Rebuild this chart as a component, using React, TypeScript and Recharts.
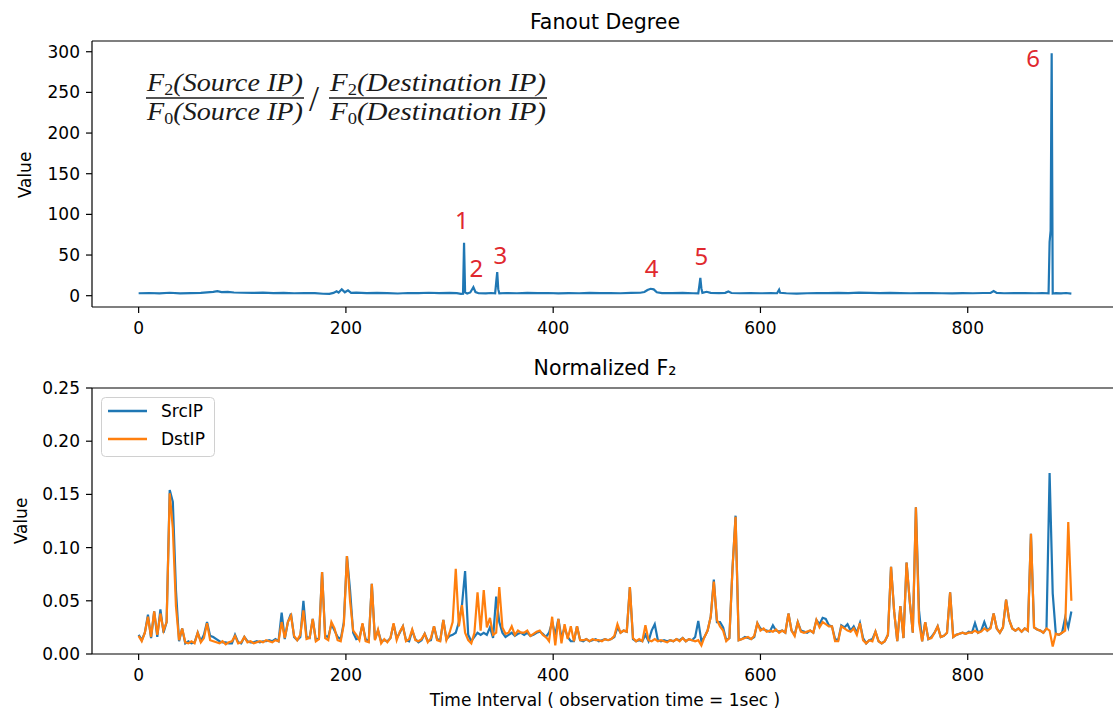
import { LineChart, Line, XAxis, YAxis, ReferenceLine, ReferenceDot, Legend } from "recharts"

// Fanout degree (top panel), sampled where the trace changes
const fanoutT = [
  0, 10, 20, 30, 40, 50, 60, 66, 72, 76, 80, 86, 92, 100, 110, 120, 130, 140, 150, 160,
  170, 178, 184, 188, 191, 193, 196, 199, 202, 205, 210, 220, 230, 240, 250, 260, 270, 280, 290, 300,
  307, 311, 313, 314, 315, 317, 320, 323, 325, 328, 335, 340, 344, 345, 346, 347, 348, 355, 365, 375,
  385, 395, 405, 415, 425, 435, 445, 455, 465, 475, 484, 488, 491, 494, 497, 500, 505, 515, 525, 535,
  540, 541, 542, 543, 544, 548, 552, 560, 566, 569, 572, 580, 590, 600, 610, 616, 618, 619, 625, 635,
  645, 655, 665, 675, 685, 695, 705, 715, 725, 735, 745, 755, 765, 775, 785, 795, 805, 815, 822, 825,
  828, 835, 845, 855, 865, 872, 878, 879, 880, 881, 882, 885, 890, 895, 900,
]
const fanoutValue = [
  3.0, 3.3, 2.8, 3.6, 2.9, 3.2, 3.4, 4.2, 4.8, 5.6, 4.4, 4.8, 3.9, 3.6, 3.4, 3.8, 3.2, 3.4, 3.0, 3.3,
  3.1, 2.4, 2.2, 3.5, 5.5, 3.8, 7.8, 4.2, 6.6, 3.4, 3.8, 3.2, 3.5, 3.1, 2.7, 3.3, 3.2, 3.6, 3.1, 3.4,
  3.2, 2.2, 2.5, 65, 4, 2.6, 4, 10.5, 4.5, 3, 2.8, 3.3, 3, 16, 29, 8, 3, 3.3, 3.0, 3.4,
  3.1, 3.3, 2.9, 3.2, 3.0, 3.4, 3.1, 3.3, 3.0, 3.4, 3.6, 4.5, 7, 8.5, 7.8, 4.2, 3.2, 3.1, 3.4, 3.0,
  2.8, 12, 22, 9, 3.5, 4.8, 3.4, 3.1, 3.5, 5.2, 3.3, 3.0, 3.2, 3.0, 3.1, 3.0, 7.5, 3.6, 3.0, 2.6,
  3.0, 3.3, 3.1, 3.5, 3.2, 3.7, 3.4, 3.1, 3.5, 3.2, 3.0, 3.3, 3.1, 3.0, 2.8, 3.2, 3.0, 3.3, 3.5, 5.8,
  3.4, 3.0, 3.2, 3.1, 3.0, 3.3, 2.8, 66, 80, 298, 2.6, 3.1, 2.9, 3.3, 2.5,
]

// red markers on the top panel
const annoText = ["1", "2", "3", "4", "5", "6"]
const annoT = [312, 326, 349, 495, 543, 863]
const annoValue = [93, 33, 49, 33, 48, 292]

// Normalized F2 (bottom panel), one value every 3 intervals from 0 to 900
const f2Names = ["SrcIP", "DstIP"]
const srcF2 = [
  .018, .013, .02, .037, .015, .04, .016, .042, .02, .03,
  .154, .143, .06, .012, .024, .01, .012, .01, .011, .02,
  .012, .018, .03, .017, .016, .014, .012, .011, .011, .01,
  .01, .018, .011, .01, .016, .012, .011, .011, .012, .011,
  .012, .012, .013, .012, .014, .012, .039, .014, .03, .038,
  .016, .013, .016, .05, .016, .015, .033, .013, .015, .077,
  .017, .016, .028, .022, .016, .014, .03, .092, .06, .02,
  .014, .015, .028, .014, .012, .066, .014, .022, .012, .013,
  .012, .015, .028, .015, .02, .026, .013, .012, .022, .014,
  .011, .013, .019, .012, .013, .026, .014, .013, .032, .014,
  .017, .018, .02, .03, .046, .078, .018, .012, .016, .02,
  .018, .02, .018, .025, .015, .054, .03, .02, .016, .018,
  .02, .017, .019, .02, .018, .02, .017, .018, .02, .021,
  .019, .016, .02, .03, .018, .033, .015, .025, .016, .012,
  .012, .026, .013, .012, .014, .012, .013, .014, .012, .013,
  .014, .013, .014, .016, .025, .02, .022, .021, .063, .014,
  .012, .013, .012, .018, .012, .022, .028, .013, .012, .013,
  .012, .013, .012, .014, .013, .015, .012, .014, .013, .016,
  .031, .012, .016, .022, .035, .07, .03, .03, .025, .013,
  .015, .08, .13, .013, .014, .016, .015, .014, .016, .029,
  .024, .023, .022, .021, .027, .022, .021, .022, .02, .038,
  .022, .018, .03, .022, .021, .02, .022, .02, .032, .028,
  .034, .033, .027, .026, .014, .013, .027, .025, .028, .022,
  .026, .02, .029, .015, .01, .013, .014, .021, .012, .01,
  .012, .018, .082, .04, .012, .045, .015, .086, .05, .02,
  .138, .041, .012, .03, .014, .016, .02, .026, .016, .017,
  .02, .058, .016, .018, .019, .02, .019, .021, .02, .029,
  .02, .022, .03, .022, .025, .038, .024, .02, .025, .051,
  .032, .024, .022, .024, .021, .024, .022, .113, .025, .023,
  .022, .02, .024, .17, .057, .019, .018, .02, .034, .025,
  .04,
]
const dstF2 = [
  .017, .012, .02, .035, .016, .04, .018, .038, .022, .03,
  .151, .118, .045, .013, .024, .011, .01, .012, .01, .02,
  .011, .015, .029, .013, .012, .011, .01, .012, .009, .011,
  .012, .017, .01, .011, .016, .011, .012, .01, .011, .012,
  .011, .013, .012, .011, .013, .012, .03, .015, .03, .036,
  .017, .013, .018, .041, .014, .015, .033, .012, .014, .077,
  .015, .013, .03, .024, .013, .012, .028, .092, .05, .022,
  .018, .013, .029, .012, .011, .066, .013, .023, .01, .014,
  .011, .015, .029, .013, .021, .026, .012, .014, .023, .013,
  .012, .014, .019, .011, .015, .026, .013, .012, .032, .013,
  .02, .03, .08, .026, .046, .02, .013, .01, .02, .058,
  .022, .06, .025, .034, .018, .02, .063, .025, .019, .02,
  .026, .018, .022, .02, .02, .022, .017, .019, .021, .022,
  .018, .016, .012, .035, .008, .033, .01, .028, .014, .026,
  .012, .026, .013, .013, .014, .012, .014, .013, .013, .012,
  .014, .013, .014, .017, .028, .02, .022, .021, .063, .015,
  .012, .014, .012, .027, .013, .012, .014, .012, .013, .012,
  .011, .013, .012, .014, .012, .015, .012, .014, .013, .012,
  .013, .008, .016, .022, .035, .068, .032, .026, .022, .012,
  .015, .08, .129, .013, .014, .015, .016, .014, .017, .029,
  .022, .024, .021, .022, .021, .023, .02, .022, .02, .038,
  .022, .017, .03, .021, .02, .021, .022, .02, .032, .025,
  .03, .028, .026, .026, .012, .012, .026, .024, .022, .021,
  .024, .018, .029, .013, .01, .013, .012, .021, .012, .01,
  .012, .018, .082, .04, .012, .045, .015, .086, .05, .02,
  .138, .03, .012, .03, .014, .015, .02, .026, .016, .017,
  .02, .058, .016, .018, .019, .02, .019, .02, .02, .022,
  .02, .021, .024, .022, .024, .038, .024, .02, .025, .051,
  .032, .024, .022, .024, .021, .024, .022, .113, .025, .023,
  .022, .02, .024, .022, .007, .019, .018, .02, .022, .124,
  .05,
]

const xTicks = [0, 200, 400, 600, 800]
const fanoutTicks = [0, 50, 100, 150, 200, 250, 300]
const f2Ticks = [0, 0.05, 0.1, 0.15, 0.2, 0.25]

const fanoutData = fanoutT.map((t, i) => ({ t, value: fanoutValue[i] }))
const f2Data = srcF2.map((v, i) => ({ t: i * 3, src: v, dst: dstF2[i] }))

const FONT = "DejaVu Sans"
const tickStyle = { fill: "#000", fontSize: 17, fontFamily: FONT }
const spine = { stroke: "#000", strokeWidth: 1.2 }
const BLUE = "#1f77b4"
const ORANGE = "#ff7f0e"
const RED = "#e0282e"
const f2Colors = [BLUE, ORANGE]

// matplotlib-style legend box, entries in plotting order
function F2Legend() {
  return (
    <svg width={114} height={60} style={{ display: "block" }}>
      <rect x={0.5} y={0.5} width={113} height={59} rx={4} fill="rgba(255,255,255,0.8)" stroke="#d0d0d0" />
      {f2Names.map((name, i) => (
        <g key={name}>
          <line x1={7} x2={46} y1={14 + i * 28} y2={14 + i * 28} stroke={f2Colors[i]} strokeWidth={2.4} />
          <text x={60} y={20 + i * 28} fontSize={17} fontFamily={FONT} fill="#000">{name}</text>
        </g>
      ))}
    </svg>
  )
}

function Formula() {
  const num = { fontFamily: "Liberation Serif", fontStyle: "italic" as const, fontSize: 25, fill: "#1a1a1a" }
  const sub = { fontSize: 16, fontStyle: "normal" as const }
  return (
    <g>
      <text x={147} y={91} textLength={156} lengthAdjust="spacingAndGlyphs" {...num}>
        F<tspan dy={4} {...sub}>2</tspan><tspan dy={-4}>(Source IP)</tspan>
      </text>
      <line x1={146} x2={304} y1={98} y2={98} stroke="#1a1a1a" strokeWidth={1.6} />
      <text x={147} y={120} textLength={156} lengthAdjust="spacingAndGlyphs" {...num}>
        F<tspan dy={4} {...sub}>0</tspan><tspan dy={-4}>(Source IP)</tspan>
      </text>
      <text x={309} y={111} fontFamily="Liberation Serif" fontSize={36} fill="#1a1a1a">/</text>
      <text x={330} y={91} textLength={216} lengthAdjust="spacingAndGlyphs" {...num}>
        F<tspan dy={4} {...sub}>2</tspan><tspan dy={-4}>(Destination IP)</tspan>
      </text>
      <line x1={329} x2={547} y1={98} y2={98} stroke="#1a1a1a" strokeWidth={1.6} />
      <text x={330} y={120} textLength={216} lengthAdjust="spacingAndGlyphs" {...num}>
        F<tspan dy={4} {...sub}>0</tspan><tspan dy={-4}>(Destination IP)</tspan>
      </text>
    </g>
  )
}

export default function App() {
  return (
    <div style={{ position: "absolute", left: 0, top: 0, width: 1113, height: 711, overflow: "hidden", background: "#fff" }}>
      <div style={{ position: "absolute", left: 0, top: 0 }}>
        <LineChart width={1140} height={340} data={fanoutData} margin={{ top: 41, right: 22, bottom: 3, left: 0 }}>
          <XAxis dataKey="t" type="number" domain={[-45, 945]} ticks={xTicks} tickSize={6} tickMargin={9}
            height={30} tick={tickStyle} axisLine={spine} tickLine={spine} />
          <YAxis type="number" domain={[-13.9, 313.2]} ticks={fanoutTicks} tickSize={6} tickMargin={6}
            width={92} tick={tickStyle} axisLine={spine} tickLine={spine} allowDataOverflow />
          <ReferenceLine y={313.2} stroke="#000" strokeWidth={1.2} />
          <Line dataKey="value" stroke={BLUE} strokeWidth={2.2} dot={false} activeDot={false} isAnimationActive={false} />
          {annoText.map((s, i) => (
            <ReferenceDot key={s} x={annoT[i]} y={annoValue[i]} r={1} fill="none" stroke="none"
              label={{ value: s, position: "center", fill: RED, fontSize: 24, fontFamily: "Noto Sans" }} />
          ))}
        </LineChart>
      </div>
      <div style={{ position: "absolute", left: 0, top: 340 }}>
        <LineChart width={1140} height={371} data={f2Data} margin={{ top: 48, right: 22, bottom: 27, left: 0 }}>
          <XAxis dataKey="t" type="number" domain={[-45, 945]} ticks={xTicks} tickSize={6} tickMargin={9}
            height={30} tick={tickStyle} axisLine={spine} tickLine={spine} />
          <YAxis type="number" domain={[0, 0.25]} ticks={f2Ticks} tickSize={6} tickMargin={6}
            width={92} tick={tickStyle} axisLine={spine} tickLine={spine} allowDataOverflow
            tickFormatter={(v: number) => v.toFixed(2)} />
          <ReferenceLine y={0.25} stroke="#000" strokeWidth={1.2} />
          <Line dataKey="src" name={f2Names[0]} stroke={BLUE} strokeWidth={2.2} dot={false} activeDot={false} isAnimationActive={false} />
          <Line dataKey="dst" name={f2Names[1]} stroke={ORANGE} strokeWidth={2.2} dot={false} activeDot={false} isAnimationActive={false} />
          <Legend layout="horizontal" verticalAlign="middle" align="center" content={F2Legend}
            wrapperStyle={{ left: 101, top: 57, width: 114, height: 60 }} />
        </LineChart>
      </div>
      <svg width={1113} height={711} style={{ position: "absolute", left: 0, top: 0, pointerEvents: "none" }}>
        <text x={605} y={29} textAnchor="middle" fontFamily={FONT} fontSize={20.5} fill="#000">Fanout Degree</text>
        <text x={605} y={375} textAnchor="middle" fontFamily={FONT} fontSize={20.5} fill="#000">Normalized F₂</text>
        <text transform="translate(31,175) rotate(-90)" textAnchor="middle" fontFamily={FONT} fontSize={17} fill="#000">Value</text>
        <text transform="translate(27,521) rotate(-90)" textAnchor="middle" fontFamily={FONT} fontSize={17} fill="#000">Value</text>
        <text x={605} y={706} textAnchor="middle" fontFamily={FONT} fontSize={17} fill="#000">Time Interval ( observation time = 1sec )</text>
        <Formula />
      </svg>
    </div>
  )
}
